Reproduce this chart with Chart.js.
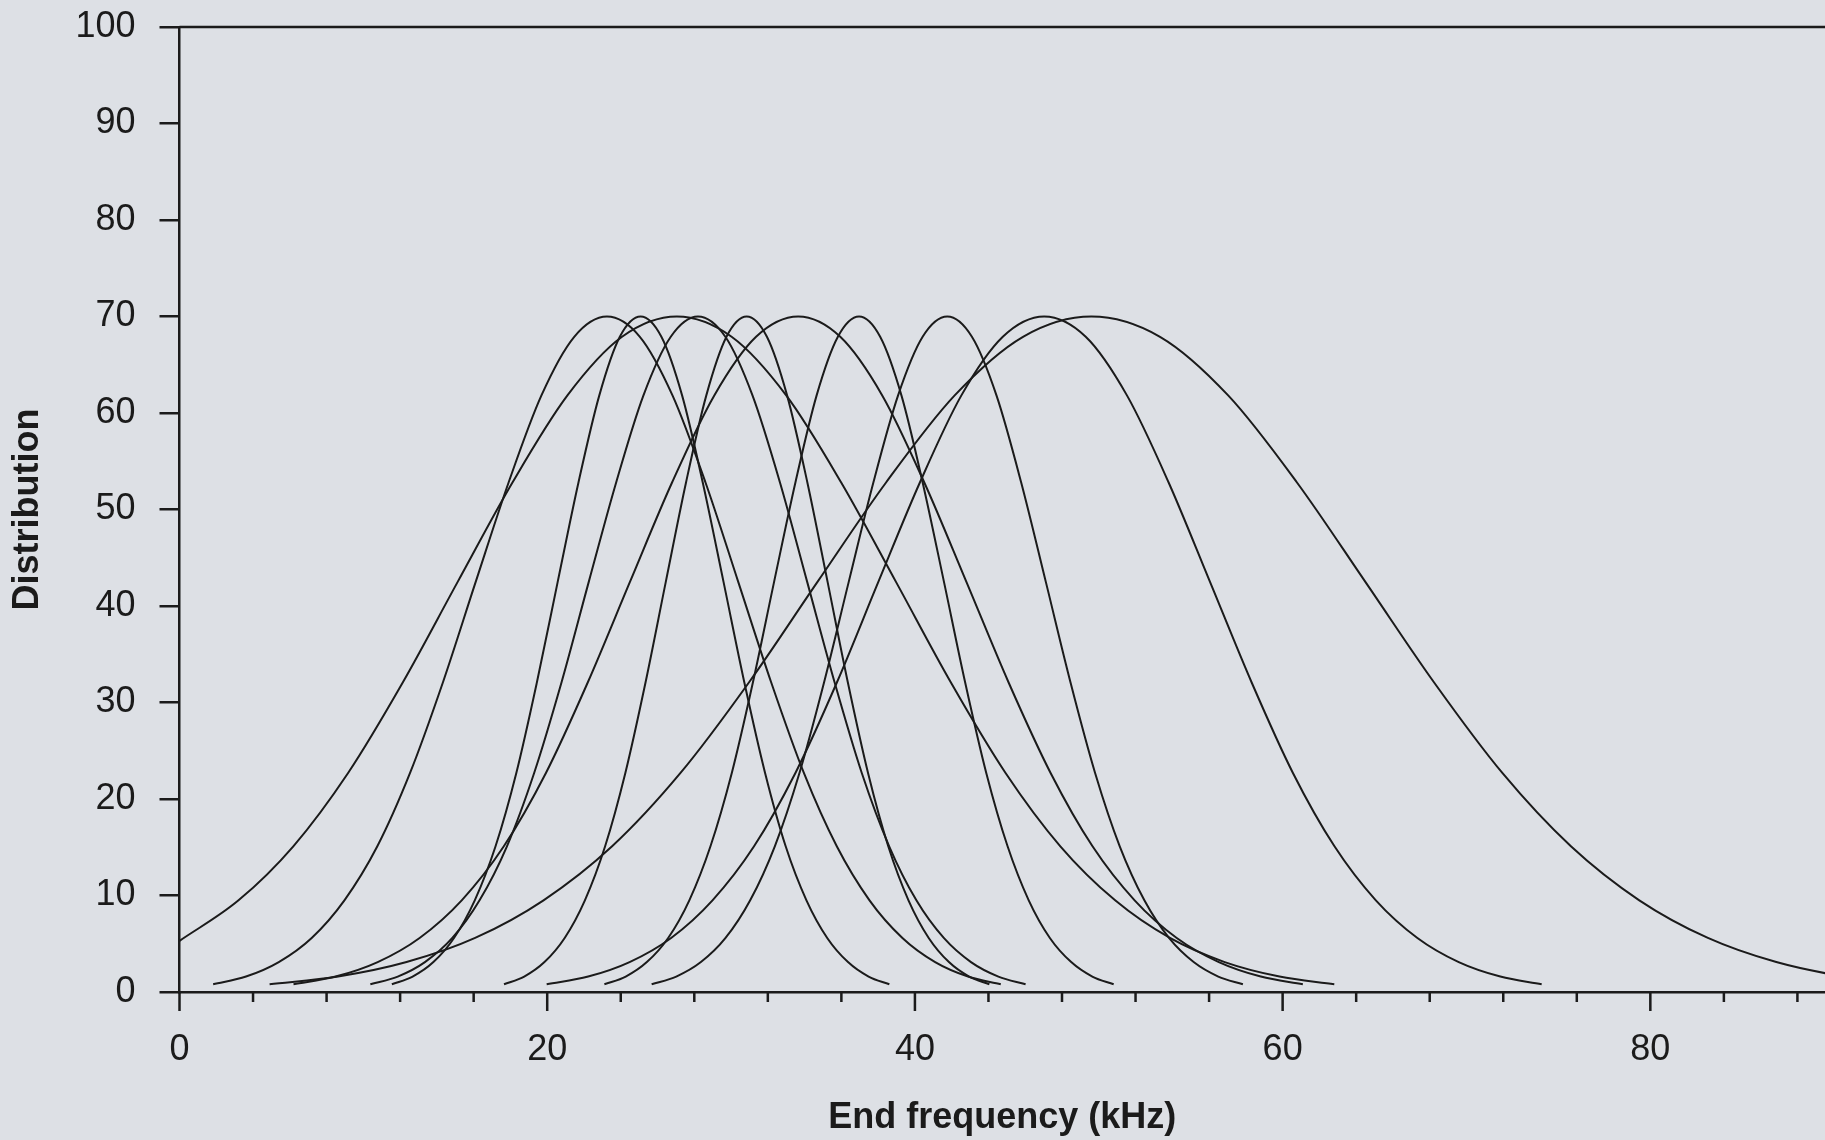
<!DOCTYPE html>
<html>
<head>
<meta charset="utf-8">
<script src="https://cdn.jsdelivr.net/npm/chart.js@4.4.1/dist/chart.umd.min.js"></script>
<style>
  body { margin: 0; overflow: hidden; background: #dde0e5; }
</style>
</head>
<body>
<canvas id="graph-distribuicao" width="1825" height="1140"></canvas>
<script>
// values (x = kHz, y = distribution)
const curve1X = [1.83, 3.62, 5.40, 7.19, 8.97, 10.76, 12.54, 14.33, 16.11, 17.90, 19.68, 21.47, 23.25, 25.04, 26.82, 28.61, 30.39, 32.18, 33.96, 35.75, 37.53, 39.32, 41.10, 42.89, 44.67];
const curve1Y = [0.8, 1.6, 3.1, 5.6, 9.5, 15.1, 22.7, 32.1, 42.5, 52.8, 61.8, 67.9, 70, 67.9, 61.8, 52.8, 42.5, 32.1, 22.7, 15.1, 9.5, 5.6, 3.1, 1.6, 0.8];
const curve2X = [11.55, 12.68, 13.81, 14.93, 16.06, 17.19, 18.32, 19.44, 20.57, 21.70, 22.83, 23.95, 25.08, 26.21, 27.34, 28.46, 29.59, 30.72, 31.85, 32.97, 34.10, 35.23, 36.36, 37.48, 38.61];
const curve2Y = [0.8, 1.6, 3.1, 5.6, 9.5, 15.1, 22.7, 32.1, 42.5, 52.8, 61.8, 67.9, 70, 67.9, 61.8, 52.8, 42.5, 32.1, 22.7, 15.1, 9.5, 5.6, 3.1, 1.6, 0.8];
const curve3X = [0, 3.21, 6.19, 9.17, 12.15, 15.13, 18.11, 21.09, 24.07, 27.05, 30.03, 33.01, 35.99, 38.97, 41.95, 44.93, 47.91, 50.89, 53.87, 56.85, 59.83, 62.81];
const curve3Y = [5.3, 9.5, 15.1, 22.7, 32.1, 42.5, 52.8, 61.8, 67.9, 70, 67.9, 61.8, 52.8, 42.5, 32.1, 22.7, 15.1, 9.5, 5.6, 3.1, 1.6, 0.8];
const curve4X = [10.38, 11.87, 13.35, 14.84, 16.32, 17.81, 19.29, 20.78, 22.26, 23.75, 25.23, 26.72, 28.20, 29.69, 31.17, 32.66, 34.14, 35.63, 37.11, 38.60, 40.08, 41.57, 43.05, 44.54, 46.02];
const curve4Y = [0.8, 1.6, 3.1, 5.6, 9.5, 15.1, 22.7, 32.1, 42.5, 52.8, 61.8, 67.9, 70, 67.9, 61.8, 52.8, 42.5, 32.1, 22.7, 15.1, 9.5, 5.6, 3.1, 1.6, 0.8];
const curve5X = [17.65, 18.75, 19.85, 20.95, 22.05, 23.15, 24.25, 25.35, 26.45, 27.55, 28.65, 29.75, 30.85, 31.95, 33.05, 34.15, 35.25, 36.35, 37.45, 38.55, 39.65, 40.75, 41.85, 42.95, 44.05];
const curve5Y = [0.8, 1.6, 3.1, 5.6, 9.5, 15.1, 22.7, 32.1, 42.5, 52.8, 61.8, 67.9, 70, 67.9, 61.8, 52.8, 42.5, 32.1, 22.7, 15.1, 9.5, 5.6, 3.1, 1.6, 0.8];
const curve6X = [6.20, 8.49, 10.78, 13.06, 15.35, 17.64, 19.93, 22.21, 24.50, 26.79, 29.08, 31.36, 33.65, 35.94, 38.23, 40.51, 42.80, 45.09, 47.38, 49.66, 51.95, 54.24, 56.53, 58.81, 61.10];
const curve6Y = [0.8, 1.6, 3.1, 5.6, 9.5, 15.1, 22.7, 32.1, 42.5, 52.8, 61.8, 67.9, 70, 67.9, 61.8, 52.8, 42.5, 32.1, 22.7, 15.1, 9.5, 5.6, 3.1, 1.6, 0.8];
const curve7X = [23.11, 24.27, 25.42, 26.58, 27.73, 28.88, 30.04, 31.19, 32.34, 33.50, 34.65, 35.81, 36.96, 38.11, 39.27, 40.42, 41.58, 42.73, 43.88, 45.04, 46.19, 47.34, 48.50, 49.65, 50.81];
const curve7Y = [0.8, 1.6, 3.1, 5.6, 9.5, 15.1, 22.7, 32.1, 42.5, 52.8, 61.8, 67.9, 70, 67.9, 61.8, 52.8, 42.5, 32.1, 22.7, 15.1, 9.5, 5.6, 3.1, 1.6, 0.8];
const curve8X = [25.68, 27.02, 28.36, 29.70, 31.04, 32.38, 33.72, 35.06, 36.40, 37.74, 39.08, 40.42, 41.76, 43.10, 44.44, 45.78, 47.12, 48.46, 49.80, 51.14, 52.48, 53.82, 55.16, 56.50, 57.84];
const curve8Y = [0.8, 1.6, 3.1, 5.6, 9.5, 15.1, 22.7, 32.1, 42.5, 52.8, 61.8, 67.9, 70, 67.9, 61.8, 52.8, 42.5, 32.1, 22.7, 15.1, 9.5, 5.6, 3.1, 1.6, 0.8];
const curve9X = [19.97, 22.23, 24.48, 26.74, 28.99, 31.25, 33.50, 35.76, 38.01, 40.27, 42.52, 44.78, 47.03, 49.29, 51.54, 53.80, 56.05, 58.31, 60.56, 62.82, 65.07, 67.33, 69.58, 71.84, 74.09];
const curve9Y = [0.8, 1.6, 3.1, 5.6, 9.5, 15.1, 22.7, 32.1, 42.5, 52.8, 61.8, 67.9, 70, 67.9, 61.8, 52.8, 42.5, 32.1, 22.7, 15.1, 9.5, 5.6, 3.1, 1.6, 0.8];
const curve10X = [4.90, 8.63, 12.35, 16.08, 19.80, 23.53, 27.25, 30.98, 34.70, 38.43, 42.15, 45.88, 49.60, 53.33, 57.05, 60.78, 64.50, 68.23, 71.95, 75.68, 79.40, 83.13, 86.85, 90.58, 94.30];
const curve10Y = [0.8, 1.6, 3.1, 5.6, 9.5, 15.1, 22.7, 32.1, 42.5, 52.8, 61.8, 67.9, 70, 67.9, 61.8, 52.8, 42.5, 32.1, 22.7, 15.1, 9.5, 5.6, 3.1, 1.6, 0.8];

const xTickLabels = [0, 20, 40, 60, 80];
const xMinorTicks = [0, 4, 8, 12, 16, 20, 24, 28, 32, 36, 40, 44, 48, 52, 56, 60, 64, 68, 72, 76, 80, 84, 88];
const yTicks = [0, 10, 20, 30, 40, 50, 60, 70, 80, 90, 100];

const curvas = [
	[curve1X, curve1Y], [curve2X, curve2Y], [curve3X, curve3Y], [curve4X, curve4Y], [curve5X, curve5Y],
	[curve6X, curve6Y], [curve7X, curve7Y], [curve8X, curve8Y], [curve9X, curve9Y], [curve10X, curve10Y]
];

const tinta = '#1b1b1b';
const fonteTick = { family: '"Liberation Sans", Arial, sans-serif', size: 36 };
const fonteTitulo = { family: '"Liberation Sans", Arial, sans-serif', size: 36, weight: 'bold' };

// background, top border and the two sizes of x ticks
const extras = {
	id: 'extras',
	beforeDraw(chart) {
		const c = chart.ctx;
		c.save();
		c.fillStyle = '#dde0e5';
		c.fillRect(0, 0, chart.width, chart.height);
		c.restore();
	},
	afterDraw(chart) {
		const c = chart.ctx;
		const area = chart.chartArea;
		const x = chart.scales.x;
		const y = chart.scales.y;
		c.save();
		c.strokeStyle = tinta;
		c.lineWidth = 2.5;
		c.beginPath();
		c.moveTo(area.left, y.getPixelForValue(100));
		c.lineTo(area.right, y.getPixelForValue(100));
		xMinorTicks.forEach(v => {
			const px = x.getPixelForValue(v);
			const len = xTickLabels.includes(v) ? 19 : 10;
			c.moveTo(px, area.bottom);
			c.lineTo(px, area.bottom + len);
		});
		c.stroke();
		c.restore();
	}
};

const ctx = document.getElementById('graph-distribuicao');
const chartGraph = new Chart(ctx, {
	type: 'line',
	data: {
		datasets: curvas.map(([xs, ys]) => ({
			data: xs.map((x, i) => ({ x: x, y: ys[i] })),
			borderColor: tinta,
			borderWidth: 2,
			pointRadius: 0,
			fill: false,
			cubicInterpolationMode: 'monotone'
		}))
	},
	options: {
		responsive: false,
		animation: false,
		layout: { padding: { top: 27, right: 0, left: 0, bottom: 0 } },
		plugins: {
			legend: { display: false },
			tooltip: { enabled: false }
		},
		scales: {
			x: {
				type: 'linear',
				min: 0,
				max: 89.5,
				afterBuildTicks: scale => { scale.ticks = xMinorTicks.map(v => ({ value: v })); },
				afterFit: scale => { scale.height = 148; },
				ticks: {
					callback: v => xTickLabels.includes(v) ? String(v) : '',
					font: fonteTick,
					color: tinta,
					padding: 16,
					maxRotation: 0,
					autoSkip: false,
					includeBounds: false
				},
				grid: { display: true, drawOnChartArea: false, tickLength: 20, tickColor: 'rgba(0,0,0,0)' },
				border: { display: true, color: tinta, width: 2.5 },
				title: { display: true, text: 'End frequency (kHz)', font: fonteTitulo, color: tinta, padding: { top: 0, bottom: 0 } }
			},
			y: {
				min: 0,
				max: 100,
				afterBuildTicks: scale => { scale.ticks = yTicks.map(v => ({ value: v })); },
				afterFit: scale => {
					scale.width = 179.5;
					scale.paddingTop = 0;
					scale.paddingBottom = 0;
				},
				ticks: { font: fonteTick, color: tinta, padding: 24 },
				grid: { display: true, drawOnChartArea: false, tickLength: 20, color: tinta, lineWidth: 2.5 },
				border: { display: true, color: tinta, width: 2.5 },
				title: { display: true, text: 'Distribution', font: fonteTitulo, color: tinta, padding: { top: 6, bottom: 0 } }
			}
		}
	},
	plugins: [extras]
});
</script>
</body>
</html>
